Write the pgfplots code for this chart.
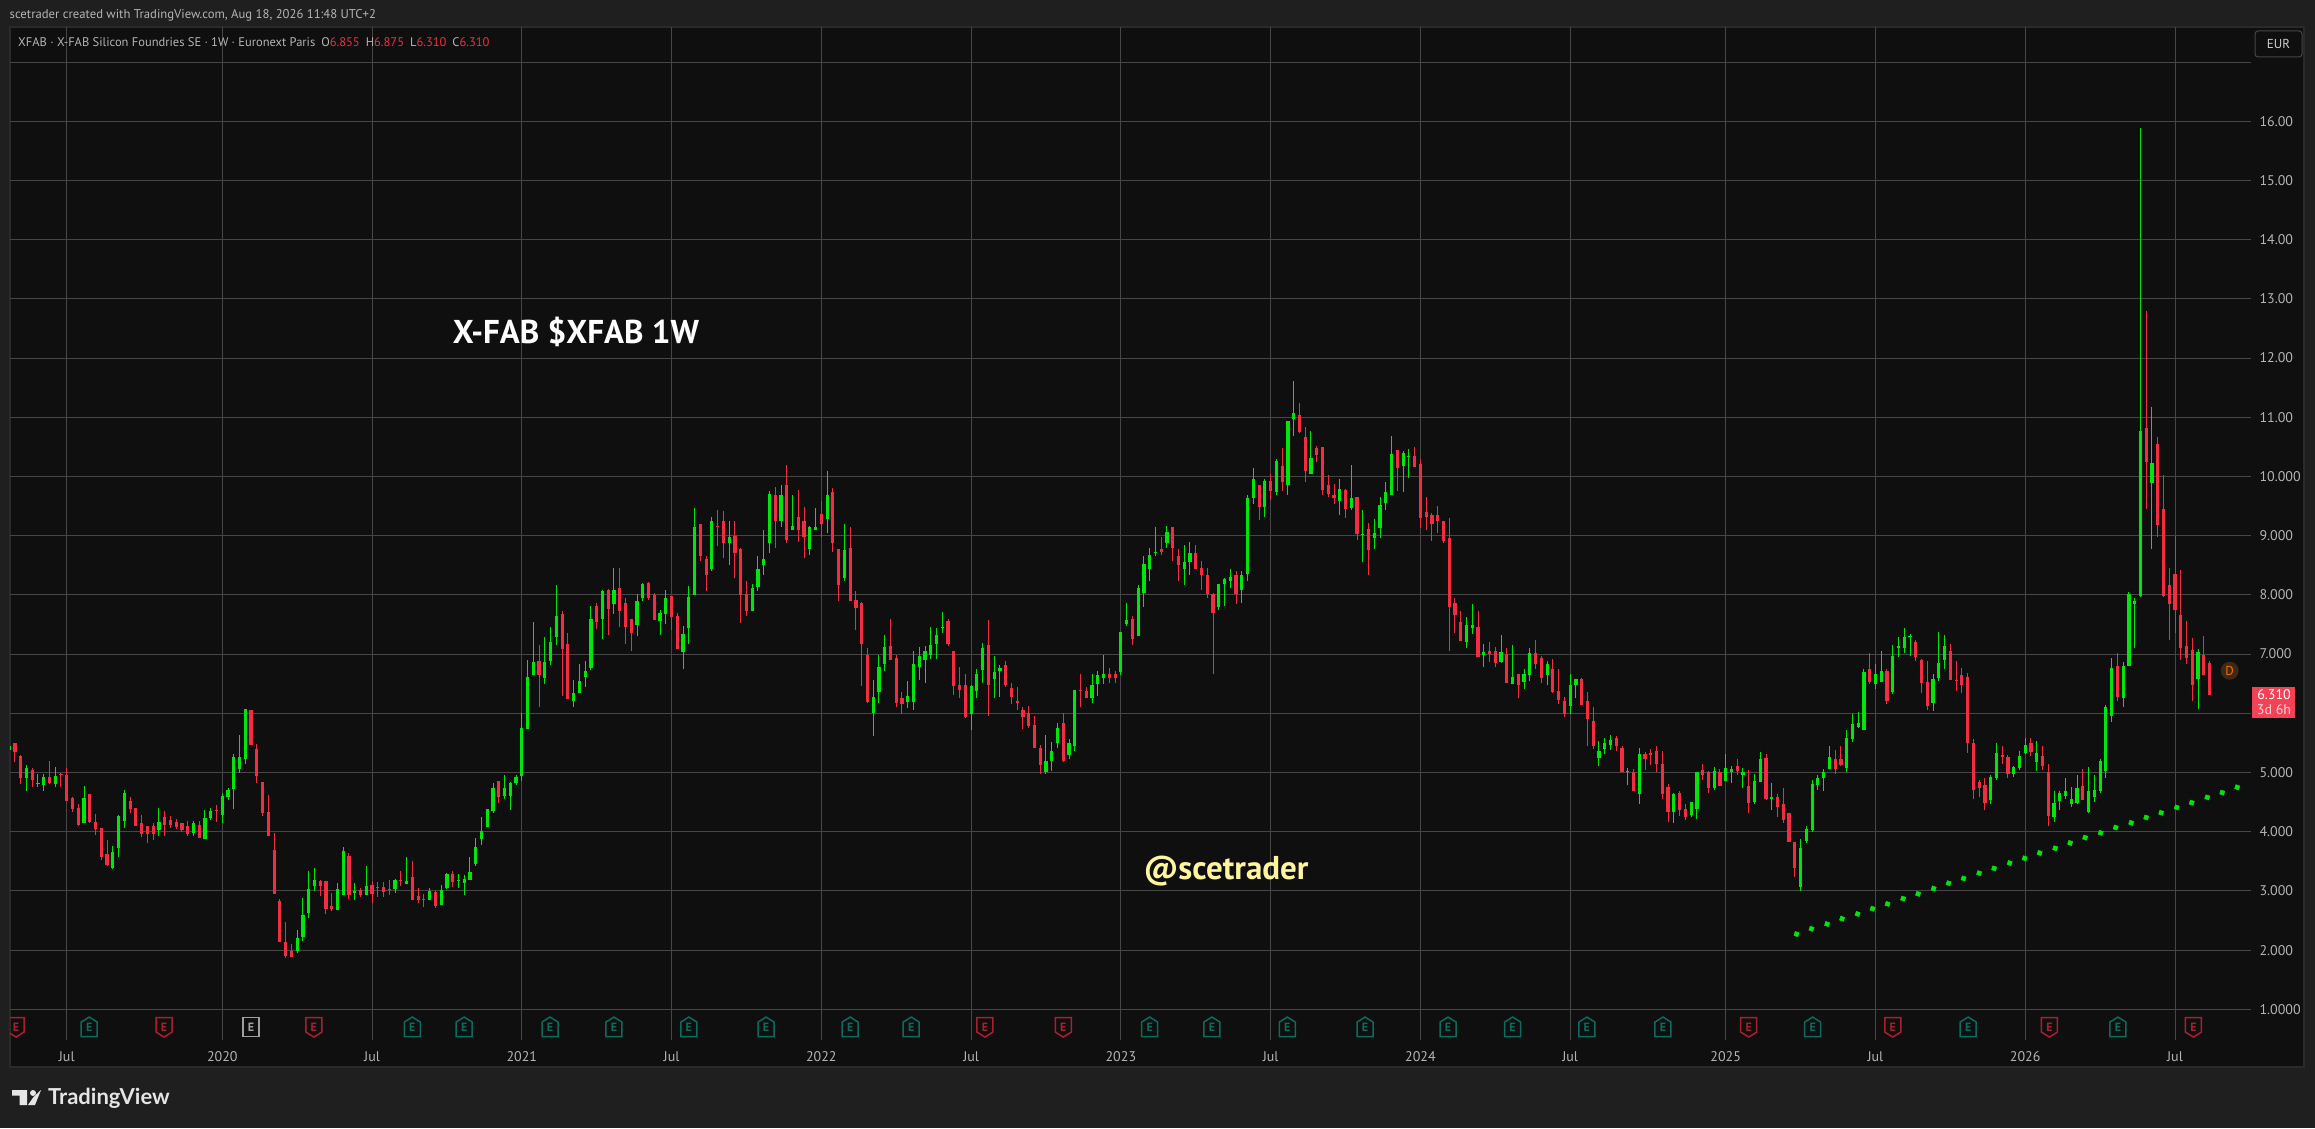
\documentclass[border=0pt]{standalone}
\usepackage{fontspec}
\usepackage{pgfplots}
\usepackage{pgfplotstable}
\pgfplotsset{compat=1.18}
\setmainfont{PT Sans}
\newfontfamily\lato{Lato}
\definecolor{pagebg}{HTML}{1F1F1F}
\definecolor{chartbg}{HTML}{0F0F0F}
\definecolor{gridc}{HTML}{464646}
\definecolor{frame}{HTML}{2A2A2A}
\definecolor{cup}{HTML}{00E60A}
\definecolor{cdn}{HTML}{F22D42}
\definecolor{lab}{HTML}{B4B4B4}
\definecolor{egreen}{HTML}{0B6B5E}
\definecolor{ered}{HTML}{A8202F}
\definecolor{egrey}{HTML}{A0A0A0}
\definecolor{handle}{HTML}{FFF59D}
\definecolor{dbadge}{HTML}{3A2A1A}
\pgfdeclareplotmark{earnG}{%
  \pgfsetlinewidth{1.5pt}\pgfsetstrokecolor{egreen}\pgfsetcornersarced{\pgfpoint{1.2pt}{1.2pt}}%
  \pgfpathmoveto{\pgfpoint{0pt}{10pt}}\pgfpathlineto{\pgfpoint{8pt}{5pt}}\pgfpathlineto{\pgfpoint{8pt}{-9.5pt}}%
  \pgfpathlineto{\pgfpoint{-8pt}{-9.5pt}}\pgfpathlineto{\pgfpoint{-8pt}{5pt}}\pgfpathclose\pgfusepathqstroke
  \pgftext[center]{\fontsize{12}{12}\selectfont\color{egreen}\textbf{E}}}
\pgfdeclareplotmark{earnR}{%
  \pgfsetlinewidth{1.5pt}\pgfsetstrokecolor{ered}\pgfsetcornersarced{\pgfpoint{1.2pt}{1.2pt}}%
  \pgfpathmoveto{\pgfpoint{0pt}{-10pt}}\pgfpathlineto{\pgfpoint{8pt}{-5pt}}\pgfpathlineto{\pgfpoint{8pt}{9.5pt}}%
  \pgfpathlineto{\pgfpoint{-8pt}{9.5pt}}\pgfpathlineto{\pgfpoint{-8pt}{-5pt}}\pgfpathclose\pgfusepathqstroke
  \pgftext[center]{\fontsize{12}{12}\selectfont\color{ered}\textbf{E}}}
\pgfdeclareplotmark{earnW}{%
  \pgfsetlinewidth{1.5pt}\pgfsetstrokecolor{egrey}\pgfsetcornersarced{\pgfpoint{1.2pt}{1.2pt}}%
  \pgfpathmoveto{\pgfpoint{-8pt}{-9.5pt}}\pgfpathlineto{\pgfpoint{8pt}{-9.5pt}}\pgfpathlineto{\pgfpoint{8pt}{9.5pt}}%
  \pgfpathlineto{\pgfpoint{-8pt}{9.5pt}}\pgfpathclose\pgfusepathqstroke
  \pgftext[center]{\fontsize{12}{12}\selectfont\color{egrey}\textbf{E}}}
\pgfplotstableread{
i o h l c
-1 5.38 5.45 5.38 5.45
0 5.49 5.49 5.18 5.34
1 5.28 5.29 4.81 4.91
2 4.91 5.12 4.68 5.08
3 5.04 5.08 4.75 4.87
4 4.81 4.98 4.76 4.83
5 4.79 4.98 4.68 4.93
6 4.93 5.20 4.81 4.82
7 4.81 5.09 4.76 4.94
8 4.98 4.99 4.75 4.95
9 4.96 5.08 4.52 4.52
10 4.57 4.59 4.34 4.39
11 4.40 4.47 4.10 4.11
12 4.14 4.77 4.14 4.57
13 4.64 4.64 4.15 4.16
14 4.17 4.30 3.95 4.05
15 4.06 4.06 3.53 3.57
16 3.63 3.86 3.42 3.44
17 3.39 3.76 3.37 3.66
18 3.73 4.28 3.57 4.27
19 4.18 4.71 4.07 4.66
20 4.52 4.59 4.32 4.39
21 4.40 4.40 4.10 4.10
22 4.15 4.28 3.91 3.96
23 4.10 4.10 3.81 3.96
24 4.10 4.15 3.86 3.96
25 4.03 4.40 3.93 4.17
26 4.25 4.35 3.93 4.12
27 4.20 4.27 4.06 4.12
28 4.17 4.22 4.05 4.08
29 4.15 4.15 4.00 4.03
30 4.10 4.18 3.93 3.96
31 3.98 4.18 3.93 4.15
32 4.12 4.18 3.90 3.90
33 3.88 4.37 3.88 4.23
34 4.23 4.40 4.20 4.35
35 4.37 4.45 4.17 4.35
36 4.28 4.65 4.14 4.60
37 4.59 4.74 4.54 4.71
38 4.72 5.31 4.38 5.26
39 5.06 5.63 4.99 5.26
40 5.23 6.07 5.14 6.07
41 6.06 6.06 5.47 5.47
42 5.40 5.48 4.82 4.94
43 4.84 4.84 4.27 4.32
44 4.33 4.62 3.93 3.93
45 3.69 3.98 2.95 2.95
46 2.83 2.87 2.14 2.14
47 2.14 2.48 1.87 1.90
48 1.99 2.11 1.89 1.89
49 1.99 2.34 1.95 2.21
50 2.22 2.88 2.16 2.60
51 2.63 3.34 2.54 3.03
52 3.09 3.39 3.00 3.19
53 3.17 3.19 2.92 3.09
54 3.17 3.17 2.61 2.70
55 2.75 2.97 2.66 2.70
56 2.68 3.14 2.68 3.03
57 2.93 3.74 2.93 3.68
58 3.59 3.64 2.87 2.93
59 2.97 3.14 2.85 2.99
60 3.02 3.05 2.90 2.93
61 2.93 3.42 2.93 3.09
62 3.10 3.17 2.80 2.95
63 3.07 3.15 2.90 3.05
64 3.07 3.15 2.90 2.98
65 3.03 3.19 2.93 3.02
66 3.03 3.20 2.97 3.19
67 3.19 3.34 3.09 3.17
68 3.12 3.57 3.12 3.17
69 3.24 3.51 2.85 2.85
70 2.92 3.05 2.80 2.85
71 2.87 2.95 2.73 2.85
72 2.85 3.05 2.85 3.00
73 2.98 3.00 2.71 2.75
74 2.77 3.10 2.77 3.02
75 3.05 3.30 3.03 3.29
76 3.29 3.34 3.07 3.15
77 3.17 3.29 3.05 3.19
78 3.14 3.27 2.93 3.20
79 3.19 3.57 3.19 3.32
80 3.46 3.90 3.42 3.74
81 3.88 4.25 3.78 4.01
82 4.08 4.39 4.08 4.39
83 4.35 4.82 4.32 4.74
84 4.86 4.86 4.49 4.59
85 4.60 4.96 4.55 4.74
86 4.60 4.84 4.37 4.82
87 4.82 4.96 4.79 4.93
88 4.94 6.00 4.86 5.75
89 5.74 6.90 5.74 6.61
90 6.65 7.54 6.65 6.87
91 6.88 7.15 6.11 6.65
92 6.60 7.29 6.50 6.87
93 6.88 7.46 6.82 7.20
94 7.29 8.17 7.15 7.64
95 7.68 7.73 6.29 7.09
96 7.17 7.36 6.24 6.24
97 6.21 6.56 6.11 6.34
98 6.34 6.83 6.34 6.55
99 6.61 6.88 6.44 6.71
100 6.77 7.81 6.73 7.59
101 7.81 7.86 7.42 7.54
102 7.59 8.08 7.25 8.07
103 8.08 8.10 7.32 7.76
104 7.85 8.45 7.68 8.08
105 8.12 8.45 7.46 7.73
106 7.86 7.95 7.17 7.46
107 7.59 7.59 7.05 7.36
108 7.49 8.01 7.31 7.90
109 7.95 8.20 7.90 8.18
110 8.20 8.22 7.91 7.95
111 8.00 8.03 7.58 7.58
112 7.56 7.74 7.32 7.69
113 7.68 8.08 7.51 7.95
114 7.98 7.98 7.41 7.63
115 7.64 7.69 7.09 7.09
116 7.04 7.47 6.75 7.34
117 7.44 8.15 7.17 7.96
118 7.99 9.47 7.99 9.14
119 9.19 9.20 8.58 8.65
120 8.61 8.66 8.07 8.34
121 8.44 9.31 8.41 9.25
122 9.17 9.44 8.83 9.14
123 9.25 9.42 8.63 8.87
124 8.88 9.25 8.51 8.98
125 9.00 9.24 8.29 8.70
126 8.78 8.80 7.53 7.99
127 8.01 8.24 7.65 7.72
128 7.72 8.19 7.72 8.12
129 8.14 8.66 8.07 8.43
130 8.50 9.09 8.34 8.61
131 8.88 9.76 8.71 9.71
132 9.69 9.83 8.80 9.25
133 9.24 9.86 9.15 9.69
134 9.85 10.20 8.87 8.93
135 9.09 9.69 9.09 9.17
136 9.31 9.78 8.90 9.10
137 9.24 9.49 8.63 8.97
138 8.78 9.17 8.68 9.15
139 9.09 9.46 9.09 9.15
140 9.37 9.59 8.98 9.19
141 9.29 10.10 9.04 9.69
142 9.73 9.80 8.73 8.87
143 8.77 8.77 7.89 8.16
144 8.29 9.19 8.23 8.75
145 8.80 9.14 7.89 7.90
146 7.92 8.07 7.41 7.78
147 7.86 7.88 6.46 7.17
148 6.98 7.10 6.17 6.19
149 6.01 6.56 5.62 6.28
150 6.36 6.98 6.17 6.78
151 6.83 7.32 6.71 7.12
152 7.14 7.59 6.90 6.90
153 6.93 6.98 6.11 6.17
154 6.26 6.36 5.99 6.16
155 6.19 6.55 6.09 6.29
156 6.19 7.05 6.06 6.83
157 6.78 7.12 6.56 6.97
158 6.90 7.14 6.51 7.05
159 6.98 7.46 6.92 7.15
160 7.17 7.44 6.92 7.32
161 7.44 7.71 7.36 7.46
162 7.56 7.59 7.14 7.17
163 7.05 7.05 6.31 6.46
164 6.48 6.78 6.26 6.39
165 6.48 6.66 5.92 5.94
166 5.99 6.48 5.72 6.46
167 6.38 6.75 6.26 6.66
168 6.73 7.19 6.51 7.10
169 7.15 7.58 5.95 6.48
170 6.58 6.97 6.26 6.70
171 6.72 6.81 6.27 6.77
172 6.82 6.89 6.45 6.47
173 6.42 6.52 6.15 6.27
174 6.20 6.44 6.06 6.18
175 6.06 6.11 5.74 5.93
176 6.00 6.13 5.76 5.79
177 5.81 5.96 5.41 5.42
178 5.41 5.47 4.98 5.12
179 5.00 5.64 4.98 5.20
180 5.19 5.52 5.03 5.36
181 5.49 5.83 5.41 5.76
182 5.84 6.00 5.17 5.20
183 5.30 5.56 5.22 5.49
184 5.44 6.40 5.36 6.40
185 6.40 6.66 6.10 6.38
186 6.38 6.44 6.25 6.25
187 6.25 6.66 6.17 6.47
188 6.49 6.71 6.30 6.64
189 6.60 6.98 6.50 6.66
190 6.67 6.77 6.52 6.60
191 6.67 6.71 6.52 6.60
192 6.69 7.38 6.64 7.38
193 7.50 7.87 7.48 7.58
194 7.60 7.65 7.16 7.25
195 7.30 8.16 7.30 8.12
196 8.04 8.66 7.80 8.53
197 8.44 8.80 8.23 8.68
198 8.71 9.15 8.65 8.73
199 8.77 8.97 8.68 8.73
200 8.87 9.17 8.80 9.07
201 9.14 9.15 8.58 8.80
202 8.65 8.78 8.23 8.50
203 8.44 8.85 8.17 8.55
204 8.56 8.90 8.33 8.70
205 8.71 8.85 8.44 8.44
206 8.46 8.58 8.09 8.33
207 8.33 8.46 7.95 8.02
208 8.01 8.04 6.66 7.70
209 7.80 8.19 7.75 8.19
210 8.19 8.29 7.82 8.26
211 8.24 8.43 8.11 8.31
212 8.34 8.41 7.85 8.02
213 8.09 8.41 7.87 8.34
214 8.36 9.69 8.23 9.63
215 9.64 10.15 9.54 9.95
216 9.86 9.86 9.27 9.49
217 9.49 9.96 9.31 9.93
218 9.93 10.05 9.61 9.76
219 9.73 10.30 9.69 10.27
220 10.17 10.48 9.75 9.90
221 9.85 10.93 9.68 10.93
222 10.97 11.61 10.68 11.07
223 11.04 11.24 10.73 10.75
224 10.66 10.83 9.90 10.09
225 10.04 10.77 10.04 10.31
226 10.48 10.51 10.24 10.36
227 10.50 10.50 9.68 9.77
228 9.85 10.02 9.65 9.70
229 9.68 9.87 9.53 9.63
230 9.58 9.95 9.35 9.79
231 9.77 9.79 9.30 9.45
232 9.47 10.19 9.43 9.63
233 9.65 9.65 8.93 9.03
234 9.01 9.43 8.55 9.03
235 9.11 9.21 8.33 8.76
236 8.96 9.28 8.77 9.04
237 9.13 9.65 8.96 9.52
238 9.55 9.90 9.43 9.74
239 9.68 10.68 9.68 10.38
240 10.44 10.44 9.75 10.14
241 10.17 10.43 9.74 10.39
242 10.33 10.46 9.97 10.34
243 10.34 10.50 10.16 10.16
244 10.21 10.29 9.13 9.30
245 9.40 9.65 9.09 9.31
246 9.35 9.38 8.91 9.20
247 9.35 9.50 9.04 9.25
248 9.25 9.25 8.87 8.91
249 8.96 9.30 7.05 7.79
250 7.86 7.95 7.36 7.66
251 7.54 7.73 7.22 7.22
252 7.20 7.63 7.10 7.49
253 7.44 7.84 7.34 7.49
254 7.46 7.73 6.95 6.95
255 6.98 7.17 6.78 7.03
256 7.05 7.20 6.87 7.00
257 7.05 7.12 6.78 6.85
258 6.87 7.32 6.85 7.03
259 7.00 7.10 6.51 6.51
260 6.49 7.15 6.49 6.61
261 6.67 6.67 6.26 6.48
262 6.53 6.74 6.41 6.67
263 6.65 7.11 6.55 7.02
264 7.02 7.24 6.75 6.84
265 6.94 6.97 6.52 6.60
266 6.65 6.89 6.47 6.84
267 6.75 6.92 6.35 6.36
268 6.38 6.75 6.16 6.23
269 6.21 6.28 5.93 5.98
270 6.13 6.67 5.99 6.48
271 6.47 6.58 6.25 6.58
272 6.58 6.60 6.14 6.14
273 6.20 6.36 5.45 5.91
274 5.87 6.11 5.40 5.44
275 5.25 5.54 5.11 5.37
276 5.40 5.59 5.32 5.50
277 5.47 5.64 5.38 5.55
278 5.59 5.62 5.37 5.44
279 5.42 5.44 5.00 5.00
280 5.01 5.08 4.79 5.03
281 5.00 5.06 4.68 4.68
282 4.64 5.42 4.46 5.32
283 5.32 5.35 5.05 5.22
284 5.33 5.40 5.13 5.30
285 5.37 5.44 5.00 5.15
286 5.15 5.37 4.56 4.64
287 4.76 4.81 4.17 4.34
288 4.34 4.66 4.15 4.63
289 4.66 4.69 4.27 4.37
290 4.39 4.46 4.20 4.24
291 4.29 4.51 4.24 4.51
292 4.39 5.00 4.22 5.00
293 5.05 5.15 4.88 4.96
294 5.00 5.03 4.66 4.73
295 4.73 5.10 4.71 5.03
296 5.01 5.06 4.78 4.78
297 4.86 5.32 4.86 5.08
298 5.01 5.11 4.83 5.06
299 5.11 5.22 4.96 5.03
300 4.95 5.08 4.74 5.00
301 4.78 5.05 4.32 4.49
302 4.51 4.98 4.46 4.86
303 4.84 5.35 4.84 5.22
304 5.25 5.32 4.54 4.56
305 4.56 4.83 4.36 4.58
306 4.59 4.63 4.25 4.41
307 4.46 4.73 4.15 4.20
308 4.32 4.32 3.83 3.83
309 3.83 3.83 3.24 3.38
310 3.07 3.88 3.00 3.73
311 3.85 4.10 3.81 4.05
312 4.03 4.88 4.00 4.81
313 4.79 4.96 4.71 4.90
314 4.90 5.06 4.68 5.00
315 5.06 5.45 5.06 5.27
316 5.22 5.38 4.98 5.06
317 5.23 5.44 5.11 5.13
318 5.08 5.72 5.00 5.59
319 5.57 5.99 5.52 5.82
320 5.77 6.03 5.76 5.84
321 5.72 6.74 5.71 6.70
322 6.74 7.01 6.50 6.53
323 6.50 6.84 6.41 6.67
324 6.53 7.06 6.53 6.72
325 6.72 6.75 6.16 6.20
326 6.36 7.16 6.33 6.97
327 7.11 7.29 6.95 7.12
328 7.11 7.44 7.01 7.29
329 7.29 7.34 6.97 7.31
330 7.21 7.23 6.89 6.95
331 6.90 6.92 6.35 6.52
332 6.53 6.89 6.06 6.13
333 6.18 6.67 6.04 6.58
334 6.60 7.38 6.55 6.85
335 6.90 7.33 6.75 7.14
336 7.06 7.17 6.57 6.57
337 6.57 6.89 6.38 6.55
338 6.65 6.77 6.35 6.48
339 6.62 6.68 5.33 5.49
340 5.50 5.57 4.56 4.71
341 4.84 4.88 4.59 4.74
342 4.79 4.90 4.37 4.49
343 4.54 4.95 4.47 4.93
344 4.90 5.49 4.88 5.33
345 5.30 5.44 5.15 5.27
346 5.27 5.30 4.91 4.98
347 4.98 5.11 4.93 5.10
348 5.08 5.37 5.05 5.28
349 5.33 5.59 5.32 5.47
350 5.50 5.59 5.28 5.35
351 5.18 5.54 5.03 5.33
352 5.28 5.44 5.05 5.11
353 5.01 5.15 4.10 4.27
354 4.24 4.69 4.17 4.49
355 4.52 4.69 4.36 4.66
356 4.61 4.91 4.56 4.69
357 4.47 4.76 4.42 4.56
358 4.49 4.96 4.46 4.73
359 4.78 5.06 4.54 4.54
360 4.34 5.10 4.32 4.69
361 4.59 4.96 4.51 4.71
362 4.69 5.23 4.66 5.20
363 5.03 6.14 4.91 6.11
364 5.96 6.94 5.86 6.77
365 6.80 7.01 6.21 6.28
366 6.25 6.87 6.11 6.80
367 6.80 8.05 6.80 8.02
368 7.85 7.95 7.11 7.90
369 7.98 15.88 7.97 10.77
370 10.82 12.80 9.45 10.25
371 9.89 11.18 8.78 10.23
372 10.55 10.67 8.98 9.18
373 9.45 10.03 7.97 7.98
374 8.17 8.46 7.23 7.85
375 8.36 8.99 7.36 7.75
376 7.66 8.42 6.90 7.11
377 7.14 7.56 6.84 6.94
378 7.07 7.28 6.21 6.47
379 6.58 7.09 6.08 7.04
380 6.99 7.31 6.65 6.65
381 6.855 6.875 6.31 6.31
}\candles
\pgfplotstableread{
i p
309.3 2.27
311.9 2.36
314.6 2.44
317.2 2.53
319.9 2.61
322.5 2.70
325.1 2.78
327.8 2.87
330.4 2.95
333.1 3.04
335.7 3.13
338.3 3.21
341.0 3.30
343.6 3.38
346.3 3.47
348.9 3.55
351.5 3.64
354.2 3.72
356.8 3.81
359.4 3.90
362.1 3.98
364.7 4.07
367.4 4.15
370.0 4.24
372.6 4.32
375.3 4.41
377.9 4.49
380.6 4.58
383.2 4.66
385.8 4.75
388.5 4.83
}\dottedline
\pgfplotsset{
  candlebar/.style n args={2}{draw=none,mark=none,forget plot,
    error bars/.cd,y dir=plus,y explicit,error mark=none,
    error bar style={draw=#1,line width=#2}}
}
\begin{document}
\begin{tikzpicture}[x=1pt,y=1pt]
\useasboundingbox (0,0) rectangle (2315,1128);
\fill[pagebg] (0,0) rectangle (2315,1128);
\fill[chartbg,draw=frame,line width=1.5pt] (10,61) rectangle (2304,1101);
\node[anchor=west,text=lab,inner sep=0pt,font=\fontsize{12.7}{16}\selectfont] at (9.5,1113) {scetrader created with TradingView.com, Aug 18, 2026 11:48 UTC+2};
\begin{axis}[
  at={(10pt,88pt)},anchor=south west,scale only axis,
  width=2241pt,height=1013pt,
  xmin=-0.851,xmax=388.2,ymin=0.4814,ymax=17.593,
  clip marker paths=true,
  axis line style={draw=none},
  major tick length=0pt,
  grid=major,
  major grid style={draw=gridc,line width=1pt},
  xtick={9,36,62,88,114,140,166,192,218,244,270,297,323,349,375},
  xticklabels={Jul,2020,Jul,2021,Jul,2022,Jul,2023,Jul,2024,Jul,2025,Jul,2026,Jul},
  xticklabel style={anchor=center,yshift=-17pt,text=lab,font=\fontsize{14}{16}\selectfont},
  ytick={1,2,3,4,5,6,7,8,9,10,11,12,13,14,15,16,17},
  yticklabels={1.0000,2.000,3.000,4.000,5.000,{},7.000,8.000,9.000,10.000,11.00,12.00,13.00,14.00,15.00,16.00,{}},
  yticklabel pos=right,
  yticklabel style={anchor=west,xshift=5pt,text=lab,font=\fontsize{14}{16}\selectfont},
]
% wicks
\addplot[candlebar={cup}{1pt}]
  table[x expr={\thisrow{c}>=\thisrow{o}?\thisrow{i}:nan},y=l,y error plus expr={\thisrow{h}-\thisrow{l}}] {\candles};
\addplot[candlebar={cdn}{1pt}]
  table[x expr={\thisrow{c}<\thisrow{o}?\thisrow{i}:nan},y=l,y error plus expr={\thisrow{h}-\thisrow{l}}] {\candles};
% bodies
\addplot[candlebar={cup}{3.2pt}]
  table[x expr={\thisrow{c}>=\thisrow{o}?\thisrow{i}:nan},y=o,y error plus expr={max(\thisrow{c}-\thisrow{o},0.02)}] {\candles};
\addplot[candlebar={cdn}{3.2pt}]
  table[x expr={\thisrow{c}<\thisrow{o}?\thisrow{i}:nan},y=c,y error plus expr={max(\thisrow{o}-\thisrow{c},0.02)}] {\candles};
% support dots
\addplot[only marks,mark=square*,mark size=2.1pt,mark options={draw=cup,fill=cup,rotate=-18}] table[x=i,y=p] {\dottedline};
% earnings badges
\addplot[only marks,mark=earnR] coordinates {(0.2,0.7)(25.9,0.7)(51.9,0.7)(168.4,0.7)(182,0.7)(301,0.7)(326,0.7)(353.2,0.7)(378.2,0.7)};
\addplot[only marks,mark=earnG] coordinates {(12.9,0.7)(69,0.7)(78,0.7)(92.9,0.7)(104,0.7)(117,0.7)(130.4,0.7)(145,0.7)(155.6,0.7)(197,0.7)(207.8,0.7)(220.9,0.7)(234.4,0.7)(248.8,0.7)(260,0.7)(272.9,0.7)(286.1,0.7)(312.1,0.7)(339.1,0.7)(365.1,0.7)};
\addplot[only marks,mark=earnW] coordinates {(41,0.7)};
\end{axis}
% legend line
\node[anchor=west,inner sep=0pt,font=\fontsize{12.5}{16}\selectfont,text=lab] at (18,1086)
  {XFAB · X-FAB Silicon Foundries SE · 1W · Euronext Paris\hspace{6pt}O\textcolor{cdn}{6.855}\hspace{6pt}H\textcolor{cdn}{6.875}\hspace{6pt}L\textcolor{cdn}{6.310}\hspace{6pt}C\textcolor{cdn}{6.310}};
% annotations
\node[anchor=center,text=white,inner sep=0pt,font=\fontsize{33}{36}\selectfont\bfseries] at (576,796) {X-FAB \$XFAB 1W};
\node[anchor=center,text=handle,inner sep=0pt,font=\fontsize{33}{36}\selectfont\bfseries] at (1226,257) {@scetrader};
% price tag
\fill[cdn!90!white] (2252,410) rectangle (2295,441);
\node[text=white,inner sep=0pt,font=\fontsize{14}{16}\selectfont] at (2274,433) {6.310};
\node[text=white!80!cdn,inner sep=0pt,font=\fontsize{14}{16}\selectfont] at (2274,418) {3d 6h};
% dividend badge
\fill[dbadge] (2229.7,457.3) circle (9);
\node[text=orange!85!red,inner sep=0pt,font=\fontsize{13}{14}\selectfont] at (2229.7,457.3) {D};
% currency button
\draw[draw=gridc,fill=chartbg,rounded corners=3pt,line width=1pt] (2255,1071) rectangle (2302,1097);
\node[text=white!80!black,inner sep=0pt,font=\fontsize{13}{14}\selectfont] at (2278.5,1084) {EUR};
% logo
\fill[white!90!black] (12,38) rectangle (27,32.5) (19.5,32.5) rectangle (27,23);
\fill[white!90!black] (33,35) circle (3);
\fill[white!90!black] (33.5,31) -- (41,38) -- (35,23) -- (28,23) -- cycle;
\node[anchor=west,text=white!90!black,inner sep=0pt,font=\lato\fontsize{22}{26}\selectfont\bfseries] at (48,30) {TradingView};
\end{tikzpicture}
\end{document}
